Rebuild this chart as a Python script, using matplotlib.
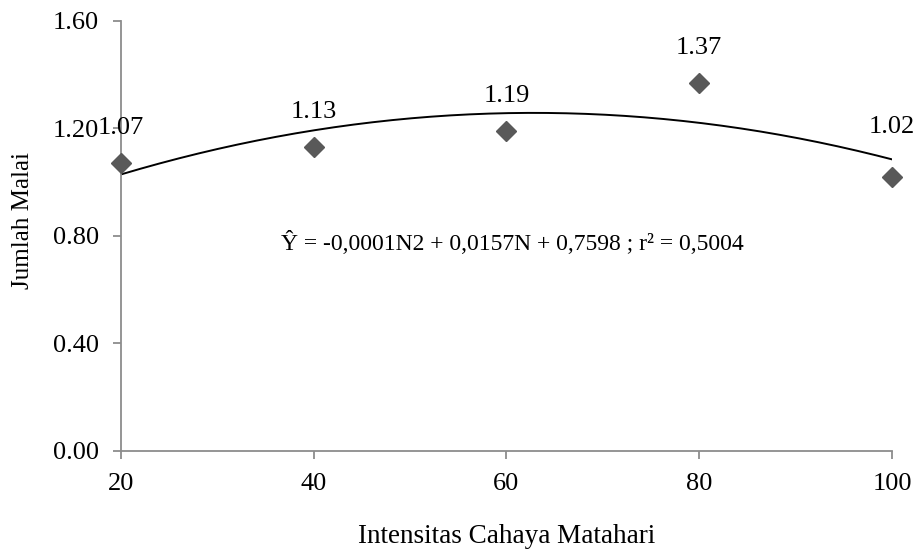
import numpy as np
import matplotlib
matplotlib.use("Agg")
import matplotlib.pyplot as plt

# data
intensitas = [20, 40, 60, 80, 100]
jumlah_malai = [1.07, 1.13, 1.19, 1.37, 1.02]
labels = ["1.07", "1.13", "1.19", "1.37", "1.02"]
label_offsets = [25, 25, 25, 25, 36]  # points above marker
persamaan = "Ŷ = -0,0001N2 + 0,0157N + 0,7598 ; r² = 0,5004"

plt.rcParams['font.family'] = ['Liberation Serif', 'DejaVu Serif']

fig = plt.figure(figsize=(9.15, 5.52), dpi=100)
ax = fig.add_axes([0.1322, 0.1835, 0.8427, 0.779])

# polynomial trendline (order 2), as excel does it
coef = np.polyfit(intensitas, jumlah_malai, 2)
xs = np.linspace(20, 100, 200)
ax.plot(xs, np.polyval(coef, xs), color="black", lw=1.4, zorder=2)

ax.plot(intensitas, jumlah_malai, linestyle="none", marker="D", ms=10.5,
        color="#595959", clip_on=False, zorder=3)

for x, y, t, off in zip(intensitas, jumlah_malai, labels, label_offsets):
    ax.annotate(t, (x, y), xytext=(0, off), textcoords="offset points",
                ha="center", va="center", fontsize=19)

ax.text(60.6, 0.773, persamaan, ha="center", va="center", fontsize=17)

ax.set_xlim(20, 100)
ax.set_ylim(0, 1.6)
ax.set_xticks([20, 40, 60, 80, 100])
ax.set_yticks([0, 0.4, 0.8, 1.2, 1.6])
ax.set_yticklabels(["0.00", "0.40", "0.80", "1.20", "1.60"])

for s in ["top", "right"]:
    ax.spines[s].set_visible(False)
for s in ["left", "bottom"]:
    ax.spines[s].set_color("#8c8c8c")
    ax.spines[s].set_linewidth(1.3)
ax.tick_params(axis="both", direction="out", length=6, width=1.3,
               color="#8c8c8c", labelsize=19)
ax.tick_params(axis="y", pad=10)
ax.tick_params(axis="x", pad=10)

ax.set_xlabel("Intensitas Cahaya Matahari", fontsize=19.5, va="baseline")
ax.set_ylabel("Jumlah Malai", fontsize=18, va="center")
ax.xaxis.set_label_coords(0.5, -0.214)
ax.yaxis.set_label_coords(-0.127, 0.536)

fig.savefig("out.png", dpi=100)
